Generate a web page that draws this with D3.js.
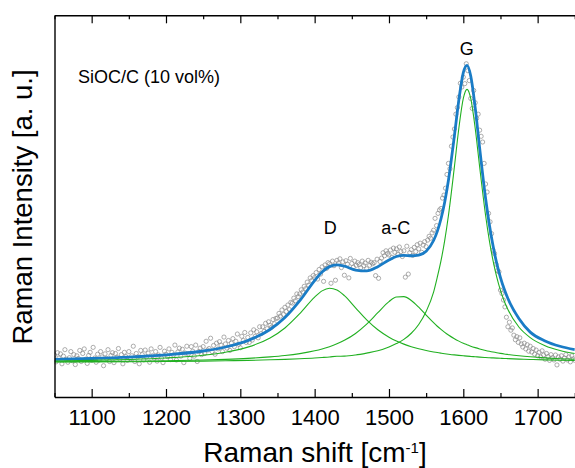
<!DOCTYPE html>
<html>
<head>
<meta charset="utf-8">
<script src="https://cdn.jsdelivr.net/npm/d3@7"></script>
<style>
  body { margin: 0; background: #fff; }
  svg { display: block; font-family: Arial, "Liberation Sans", sans-serif; }
</style>
</head>
<body>
<div id="chart"></div>
<script>
const width = 575;
const height = 468;
const marginTop = 15.3;
const marginRight = 0.2;
const marginBottom = 71;
const marginLeft = 54.5;

// measured spectrum (2 cm-1 steps from 1050 to 1750)
const ramanShift = d3.range(1050, 1751, 2);
const intensity = [
  110, 92, 116, 102, 113, 87, 107, 124, 99, 91,
  103, 119, 95, 111, 85, 108, 101, 122, 93, 114,
  126, 99, 88, 109, 117, 96, 130, 102, 91, 112,
  97, 119, 105, 82, 113, 101, 124, 93, 109, 116,
  90, 114, 104, 127, 99, 111, 87, 117, 106, 96,
  119, 100, 108, 133, 93, 114, 105, 87, 122, 111,
  97, 123, 105, 115, 91, 126, 108, 102, 119, 94,
  110, 130, 102, 90, 120, 112, 106, 126, 98, 117,
  110, 136, 97, 118, 128, 107, 125, 90, 115, 133,
  113, 101, 132, 120, 107, 136, 93, 119, 128, 111,
  132, 114, 146, 123, 127, 154, 119, 135, 112, 141,
  126, 145, 136, 119, 157, 139, 128, 148, 122, 141,
  153, 132, 146, 165, 138, 129, 159, 148, 169, 143,
  156, 143, 168, 149, 176, 159, 171, 155, 184, 166,
  184, 172, 193, 179, 197, 188, 183, 203, 192, 206,
  207, 219, 212, 228, 216, 235, 224, 241, 229, 248,
  246, 259, 252, 270, 263,
  270, 281, 275, 290, 284, 301, 293, 312, 305, 318,
  313, 326, 309, 334, 322, 341, 303, 346, 337, 352,
  349, 298, 356, 344, 306, 358, 351, 362, 339, 354,
  319, 357, 348, 312, 363, 350, 340, 356, 345, 352,
  347, 339, 356, 344, 351, 336, 358, 345, 353, 349,
  352, 318, 361, 311, 355, 364, 378, 370, 383, 376,
  372, 385, 366, 390, 379, 388, 374, 393, 381, 368,
  383, 314, 395, 322, 378, 386, 371, 392, 381, 399,
  388, 403, 379, 398, 407, 394, 411, 421, 416, 430,
  437, 468, 449, 481, 490, 494, 521, 529, 547, 583,
  612, 598, 657, 681, 702, 741, 758, 786, 822, 812,
  838, 821, 873, 855, 829, 782, 756, 803, 771, 730,
  741, 699, 683, 668, 612, 558, 537, 481, 459, 428,
  385, 376, 348, 331, 328, 280, 271, 254, 236, 209,
  184, 196, 175, 181, 162, 150, 158, 143, 155, 139,
  131, 141, 126, 137, 120, 133, 118, 127, 112, 123,
  108, 117, 105, 121, 110, 99, 114, 106, 96, 111,
  103, 97, 110, 84, 105, 99, 108, 94, 102, 111,
  97, 105, 92, 108, 100, 96
];

// fitted curves
const fitShift = [1050, 1100, 1150, 1200, 1250, 1280, 1310, 1340, 1360, 1380,
  1400, 1410, 1420, 1430, 1440, 1455, 1470, 1485, 1500, 1510,
  1520, 1530, 1540, 1550, 1560, 1565, 1570, 1575, 1580, 1588,
  1594, 1600, 1605, 1610, 1616, 1622, 1630, 1635, 1640, 1645,
  1650, 1655, 1660, 1675, 1690, 1710, 1730, 1750];
const fitSum = [98.5, 100.9, 104.5, 110.3, 120.5, 131.0, 147.8, 176.9, 208.1, 252.4,
  304.9, 327.3, 341.6, 346.2, 342.6, 332.7, 330.4, 341.5, 359, 368,
  371, 370, 372, 382, 410, 434, 467, 511, 568, 684,
  778, 850, 869, 841, 758, 652, 520, 452, 396, 350,
  313, 283, 258, 205, 170, 147, 133, 124];
const peakD = [94.5, 96.0, 98.3, 102.2, 109.5, 117.4, 130.7, 154.6, 180.9, 218.5,
  261.7, 278.0, 284.9, 280.3, 265.5, 233.8, 202.1, 176.2, 156.8, 146.7,
  138.5, 131.9, 126.4, 121.9, 118.1, 116.4, 114.9, 113.5, 112.2, 110.3,
  109.1, 108.0, 107.1, 106.3, 105.4, 104.5, 103.5, 102.9, 102.4, 101.9,
  101.4, 100.9, 100.5, 99.3, 98.4, 97.3, 96.4, 95.7];
const peakAC = [92.3, 92.9, 93.7, 94.9, 96.9, 98.7, 101.2, 105.0, 108.6, 113.7,
  121.0, 125.9, 131.8, 139.2, 148.4, 166.4, 190.8, 220.8, 250.0, 261.9,
  263.0, 253.0, 235.3, 214.6, 194.6, 185.4, 177.0, 169.3, 162.3, 152.6,
  146.4, 140.9, 137.0, 133.2, 129.3, 125.9, 121.9, 119.7, 117.7, 115.9,
  114.3, 112.8, 111.5, 108.0, 105.3, 102.5, 100.4, 98.8];
const peakG = [91.7, 92.0, 92.5, 93.2, 94.1, 94.9, 95.9, 97.4, 98.6, 100.2,
  102.2, 103.5, 104.9, 106.7, 107, 110, 115, 121, 131, 140,
  151, 167, 190, 224, 275, 314.1, 357.2, 410.4, 475.6, 602.8,
  704.1, 782.3, 806, 782.3, 704.1, 602.8, 475.6, 410.4, 357.2, 314.1,
  279.5, 251.6, 229.0, 182.7, 155.6, 134.4, 121.9, 114.0];

const majorTicks = [1100, 1200, 1300, 1400, 1500, 1600, 1700];
const minorTicks = [1050, 1150, 1250, 1350, 1450, 1550, 1650, 1750];

const peakNames = ["D", "a-C", "G"];
const peakNameAt = [[1421, 427], [1509, 427], [1604.5, 895]];

const x = d3.scaleLinear()
    .domain([1050, 1750])
    .range([marginLeft, width - marginRight]);

const y = d3.scaleLinear()
    .domain([0, 1000])
    .range([height - marginBottom, marginTop]);

const svg = d3.create("svg")
    .attr("width", width)
    .attr("height", height)
    .attr("viewBox", [0, 0, width, height]);

svg.append("rect")
    .attr("width", width)
    .attr("height", height)
    .attr("fill", "#fff");

svg.append("clipPath")
    .attr("id", "plot-clip")
    .append("rect")
    .attr("x", marginLeft)
    .attr("y", marginTop)
    .attr("width", width - marginLeft - marginRight)
    .attr("height", height - marginTop - marginBottom);

const plot = svg.append("g").attr("clip-path", "url(#plot-clip)");

// data points
plot.append("g")
    .selectAll("circle")
    .data(ramanShift)
    .join("circle")
    .attr("cx", d => x(d))
    .attr("cy", (d, i) => y(intensity[i]))
    .attr("r", 2.1)
    .attr("fill", "none")
    .attr("stroke", "#8a8a8a")
    .attr("stroke-width", 0.7);

const line = values => d3.line()
    .x((d, i) => x(fitShift[i]))
    .y(d => y(d))
    .curve(d3.curveMonotoneX)(values);

plot.append("path")
    .attr("d", line(fitSum))
    .attr("fill", "none")
    .attr("stroke", "#1a7cc6")
    .attr("stroke-width", 2.8);

[peakD, peakAC, peakG].forEach(values => {
    plot.append("path")
        .attr("d", line(values))
        .attr("fill", "none")
        .attr("stroke", "#21b021")
        .attr("stroke-width", 1.1);
});

// axes, ticks pointing inward
const bottom = height - marginBottom;

svg.append("g")
    .attr("transform", `translate(0,${bottom})`)
    .call(d3.axisBottom(x).tickValues(minorTicks).tickSize(-4).tickSizeOuter(0).tickFormat(""))
    .call(g => g.select(".domain").remove());

svg.append("g")
    .attr("transform", `translate(0,${marginTop})`)
    .call(d3.axisTop(x).tickValues(minorTicks).tickSize(-4).tickSizeOuter(0).tickFormat(""))
    .call(g => g.select(".domain").remove());

svg.append("g")
    .attr("transform", `translate(0,${marginTop})`)
    .call(d3.axisTop(x).tickValues(majorTicks).tickSize(-8).tickSizeOuter(0).tickFormat(""))
    .call(g => g.select(".domain").attr("stroke-width", 1.4));

svg.append("g")
    .attr("transform", `translate(0,${bottom})`)
    .call(d3.axisBottom(x).tickValues(majorTicks).tickSize(-8).tickSizeOuter(0)
        .tickPadding(12.4).tickFormat(d3.format("d")))
    .call(g => g.select(".domain").attr("stroke-width", 1.4))
    .call(g => g.selectAll("text")
        .attr("font-size", 22)
        .attr("font-family", "Arial, 'Liberation Sans', sans-serif")
        .attr("fill", "#000"));

svg.append("g")
    .attr("transform", `translate(${marginLeft},0)`)
    .call(d3.axisLeft(y).tickValues([]).tickSizeOuter(0))
    .call(g => g.select(".domain").attr("stroke-width", 1.4));

svg.selectAll(".tick line").attr("stroke-width", 1.2);

// labels
svg.append("text")
    .attr("x", 78)
    .attr("y", 83)
    .attr("font-size", 18)
    .text("SiOC/C (10 vol%)");

svg.selectAll(".peak-name")
    .data(peakNames)
    .join("text")
    .attr("class", "peak-name")
    .attr("x", (d, i) => x(peakNameAt[i][0]))
    .attr("y", (d, i) => y(peakNameAt[i][1]))
    .attr("text-anchor", "middle")
    .attr("font-size", 18)
    .text(d => d);

const xTitle = svg.append("text")
    .attr("x", 315)
    .attr("y", 462)
    .attr("text-anchor", "middle")
    .attr("font-size", 28);
xTitle.append("tspan").text("Raman shift [cm");
xTitle.append("tspan").attr("font-size", 15).attr("dy", -9).text("-1");
xTitle.append("tspan").attr("dy", 9).text("]");

svg.append("text")
    .attr("transform", "translate(32,207) rotate(-90)")
    .attr("text-anchor", "middle")
    .attr("font-size", 27.5)
    .text("Raman Intensity [a. u.]");

document.getElementById("chart").append(svg.node());
</script>
</body>
</html>
